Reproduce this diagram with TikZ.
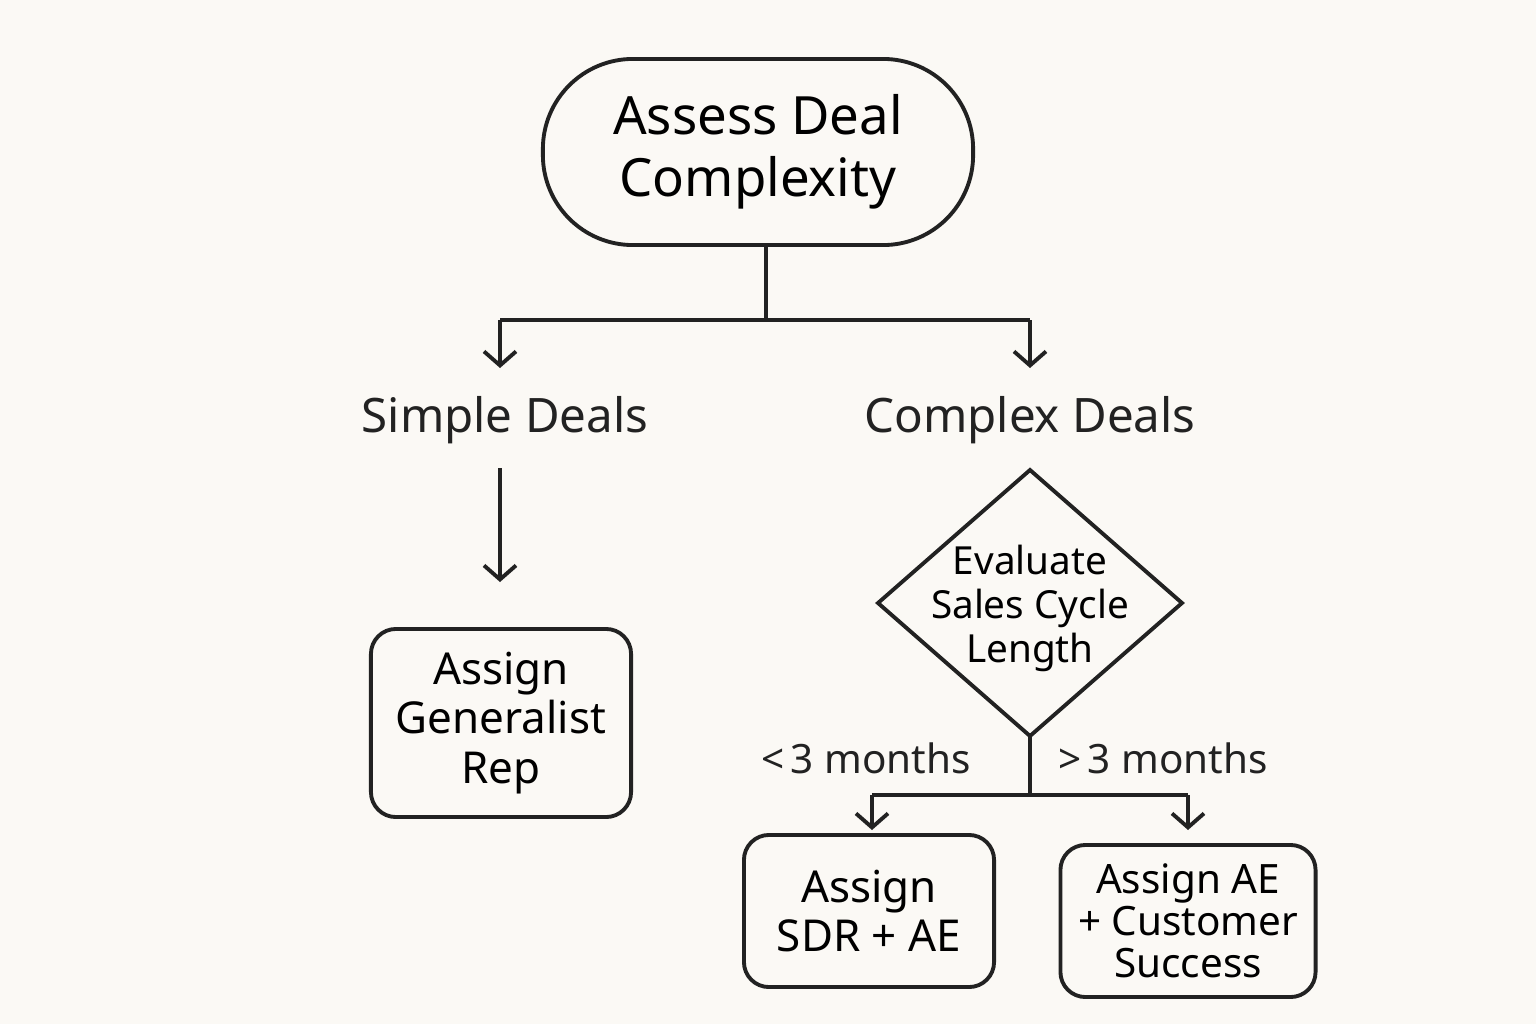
\documentclass[tikz,border=0pt]{standalone}
\usepackage{fontspec}
\setmainfont{Noto Sans}
\usetikzlibrary{shapes.geometric,arrows.meta,positioning}
\definecolor{paper}{HTML}{FBF9F5}
\definecolor{ink}{HTML}{222222}
\begin{document}
\begin{tikzpicture}[
    x=0.01cm, y=-0.01cm,
    box/.style={draw=ink, line width=1.1pt, rounded corners=0.25cm, align=center, font=\fontsize{12.5}{14}\selectfont, inner sep=0},
    start/.style={draw=ink, line width=1.1pt, rounded corners=0.9cm, align=center, font=\fontsize{15}{17.5}\selectfont, minimum width=4.3cm, minimum height=1.86cm},
    decision/.style={align=center, font=\fontsize{11}{12.5}\selectfont, inner sep=0},
    branch/.style={font=\fontsize{13.5}{16}\selectfont, text=ink},
    cond/.style={font=\fontsize{11.5}{14}\selectfont, text=ink},
    line/.style={draw=ink, line width=1.1pt},
    arr/.style={line, -{Straight Barb[length=0.14cm, width=0.32cm, line width=1.1pt]}}
]
    % Background
    \fill[paper] (0,0) rectangle (1536,1024);

    % Start node
    \node[start] (assess) at (758,152) {Assess Deal\\Complexity};

    % Branch labels
    \node[branch] (simple) at (505,420) {Simple Deals};
    \node[branch] (complex) at (1030,420) {Complex Deals};

    % Split from start
    \coordinate (split) at (766,320);
    \coordinate (splitL) at (500,320);
    \coordinate (splitR) at (1030,320);
    \coordinate (endL) at (500,368);
    \coordinate (endR) at (1030,368);
    \draw[line] (assess.south -| split) -- (split);
    \draw[line] (splitL) -- (splitR);
    \draw[arr] (splitL) -- (endL);
    \draw[arr] (splitR) -- (endR);

    % Simple path
    \node[box, minimum width=2.6cm, minimum height=1.88cm] (generalist) at (501,723) {Assign\\Generalist\\Rep};
    \coordinate (simpleA) at (500,468);
    \coordinate (simpleB) at (500,582);
    \draw[arr] (simpleA) -- (simpleB);

    % Complex path: decision diamond
    \coordinate (dtop) at (1030,470);
    \coordinate (dright) at (1182,603);
    \coordinate (dbottom) at (1030,736);
    \coordinate (dleft) at (878,603);
    \draw[line, line join=miter] (dtop) -- (dright) -- (dbottom) -- (dleft) -- cycle;
    \node[decision] (evaluate) at (1030,608) {Evaluate\\Sales Cycle\\Length};
    \coordinate (fork) at (1030,795);
    \coordinate (forkL) at (872,795);
    \coordinate (forkR) at (1188,795);
    \coordinate (forkLend) at (872,830);
    \coordinate (forkRend) at (1188,830);
    \draw[line] (dbottom) -- (fork);
    \draw[line] (forkL) -- (forkR);
    \draw[arr] (forkL) -- (forkLend);
    \draw[arr] (forkR) -- (forkRend);
    \node[cond] at (866,758) {<\,3 months};
    \node[cond] at (1163,758) {>\,3 months};

    % Leaf boxes
    \node[box, minimum width=2.5cm, minimum height=1.52cm] (sdr) at (869,911) {Assign\\SDR + AE};
    \node[box, minimum width=2.55cm, minimum height=1.52cm, font=\fontsize{11.5}{12}\selectfont] (ae) at (1188,921) {Assign AE\\+ Customer\\Success};
\end{tikzpicture}
\end{document}
